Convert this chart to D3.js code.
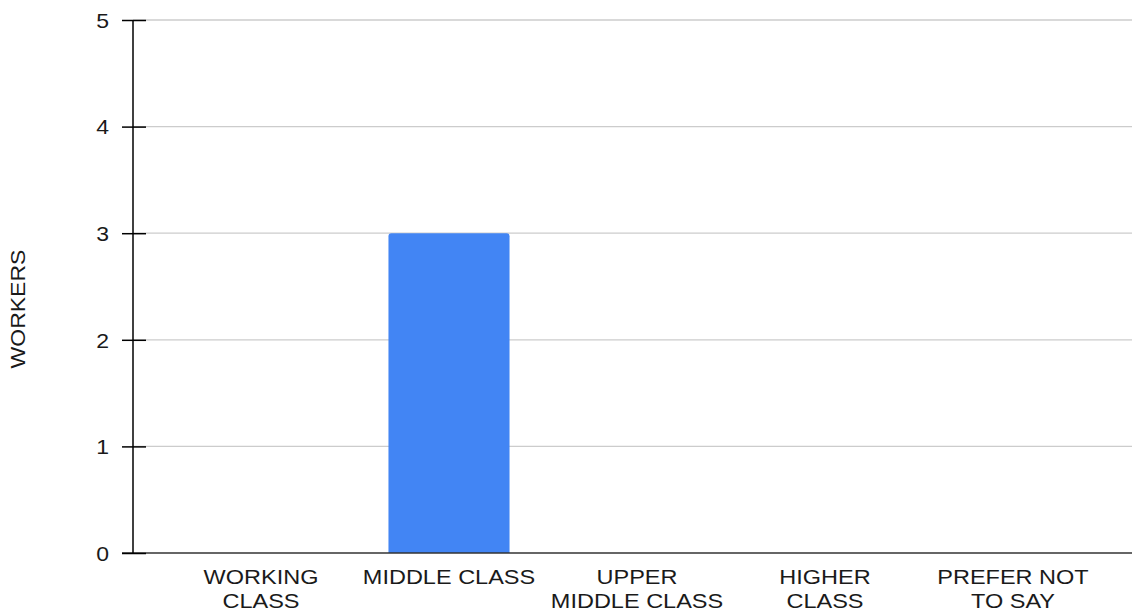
<!DOCTYPE html>
<html>
<head>
<meta charset="utf-8">
<script src="https://cdn.jsdelivr.net/npm/d3@7"></script>
<style>
  body { margin: 0; background: #fff; }
  text { font-family: "Liberation Sans", Arial, sans-serif; fill: #1a1a1a; }
</style>
</head>
<body>
<svg id="chart"></svg>
<script>
// data
const categories = ["WORKING CLASS", "MIDDLE CLASS", "UPPER MIDDLE CLASS", "HIGHER CLASS", "PREFER NOT TO SAY"];
const labelLines = [["WORKING", "CLASS"], ["MIDDLE CLASS"], ["UPPER", "MIDDLE CLASS"], ["HIGHER", "CLASS"], ["PREFER NOT", "TO SAY"]];
const workers = [0, 3, 0, 0, 0];
const yTicks = [0, 1, 2, 3, 4, 5];
const yTitle = "WORKERS";

const w = 1132, h = 616;
const svg = d3.select("#chart").attr("width", w).attr("height", h);

const xScale = d3.scaleBand()
  .domain(categories)
  .range([167, 1107])
  .paddingInner(0.356)
  .paddingOuter(0.178);

const yScale = d3.scaleLinear()
  .domain([0, 5])
  .range([553, 20]);

// gridlines
svg.append("g")
  .selectAll("line")
  .data(yTicks.filter(d => d !== 0))
  .enter()
  .append("line")
  .attr("x1", 133).attr("x2", w)
  .attr("y1", d => yScale(d)).attr("y2", d => yScale(d))
  .attr("stroke", "#cccccc")
  .attr("stroke-width", 1.3);

// bars
svg.append("g")
  .selectAll("path")
  .data(categories.map((c, i) => ({ c, v: workers[i] })).filter(d => d.v > 0))
  .enter()
  .append("path")
  .attr("d", d => {
    const x0 = xScale(d.c), x1 = x0 + xScale.bandwidth();
    const y0 = yScale(0), y1 = yScale(d.v), r = 3;
    return `M${x0},${y0}V${y1 + r}Q${x0},${y1} ${x0 + r},${y1}H${x1 - r}Q${x1},${y1} ${x1},${y1 + r}V${y0}Z`;
  })
  .attr("fill", "#4285f4");

// baseline
svg.append("line")
  .attr("x1", 122).attr("x2", w)
  .attr("y1", yScale(0)).attr("y2", yScale(0))
  .attr("stroke", "#333").attr("stroke-width", 1.5);

// y axis
const yAxis = d3.axisLeft(yScale)
  .tickValues(yTicks)
  .tickSize(11)
  .tickPadding(12)
  .tickFormat(d3.format("d"));

const yg = svg.append("g")
  .attr("transform", "translate(133,0)")
  .call(yAxis);
yg.select(".domain").remove();
yg.append("line")
  .attr("y1", yScale(5)).attr("y2", yScale(0))
  .attr("stroke", "#000").attr("stroke-width", 1.5);
yg.selectAll(".tick line")
  .attr("x2", 13)
  .attr("x1", -11)
  .attr("stroke", "#000")
  .attr("stroke-width", 1.5);
// labels in the picture are a bit wider than tall, so stretch them
yg.selectAll(".tick text")
  .attr("x", null)
  .attr("dy", "0.36em")
  .attr("transform", "translate(-24,0) scale(1.15,1)")
  .style("font-size", "20px")
  .style("font-family", "'Liberation Sans', Arial, sans-serif")
  .attr("fill", "#1a1a1a");

// x labels
const xg = svg.append("g");
categories.forEach((c, i) => {
  const cx = xScale(c) + xScale.bandwidth() / 2;
  const t = xg.append("text")
    .attr("transform", `translate(${cx},584) scale(1.13,1)`)
    .attr("text-anchor", "middle")
    .style("font-size", "20.8px");
  labelLines[i].forEach((line, j) => {
    t.append("tspan")
      .attr("x", 0)
      .attr("dy", j === 0 ? 0 : 24)
      .text(line);
  });
});

// y title
svg.append("text")
  .attr("transform", "translate(25,309) rotate(-90) scale(1.15,1)")
  .attr("text-anchor", "middle")
  .style("font-size", "20px")
  .text(yTitle);
</script>
</body>
</html>
